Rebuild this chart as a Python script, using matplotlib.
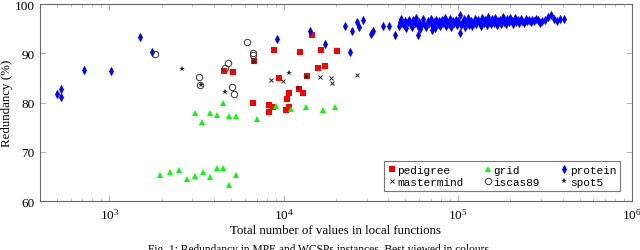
import numpy as np
import matplotlib
matplotlib.use("Agg")
import matplotlib.pyplot as plt
from matplotlib.ticker import LogLocator, NullFormatter, FixedLocator

# ---------------------------
# data
# ---------------------------
pedigree_x = [4530, 5100, 6790, 6670, 8770, 8280, 8280, 8650, 9440, 10300, 10450,
              10770, 10770, 12360, 12300, 12970, 13600, 14650, 15730, 16340, 17300, 20180]
pedigree_y = [86.5, 86.3, 88.4, 79.9, 90.7, 79.6, 78.1, 79.0, 84.9, 78.5, 80.7,
              82.0, 79.0, 90.3, 82.7, 82.0, 85.4, 93.7, 87.1, 90.6, 87.4, 90.4]

grid_x = [1966, 2223, 2505, 2785, 3097, 3440, 3770, 4137, 4510, 4880, 5310,
          4490, 3097, 3420, 3770, 4140, 4880, 5310, 7070, 9080, 11000, 13500, 16800, 19700]
grid_y = [65.3, 65.8, 66.3, 64.5, 65.1, 65.8, 64.8, 66.7, 66.8, 63.3, 65.3,
          79.9, 77.8, 76.1, 77.8, 77.5, 77.3, 77.2, 76.7, 79.2, 78.7, 79.1, 78.5, 79.1]

mastermind_x = [8450, 9950, 16190, 18630, 18880, 26490]
mastermind_y = [84.6, 84.4, 85.1, 85.0, 83.9, 85.5]

iscas_x = [1832, 6150, 6700, 6700, 4800, 4610, 3290, 3300, 5040, 5200]
iscas_y = [89.8, 92.3, 90.0, 89.6, 88.0, 87.0, 85.1, 83.6, 83.2, 81.7]

spot5_x = [2618, 3365, 4610, 6730, 10770, 13450, 12160]
spot5_y = [86.9, 83.6, 82.2, 88.3, 86.0, 85.2, 82.9]

protein_x = [498, 525, 525, 716, 1018, 1490, 1746, 9160, 14190, 17180, 24050,
             22440, 24790, 26360, 27200, 28700, 31600, 32400, 37300, 40200, 43500,
             46200, 46800, 47000, 48100, 49000, 49800,
             50500, 51500, 52300, 53800, 54500, 55600, 56800, 57500, 58800, 58900, 60200, 61000, 62300,
             63500, 64600, 66000, 67200, 68400, 69900, 71000, 71300, 72600, 73800, 75200, 76500, 78000,
             79500, 81000, 82600, 84000, 85700, 87200, 88800, 90500, 92000, 93800, 95600, 97300, 99000,
             100800, 102500, 103500, 104000, 106000, 108000, 110000, 112000, 114000, 116500, 118500,
             121000, 123000, 125500,
             128000, 130500, 133000, 135500, 138000, 141000, 143500, 146500, 149000, 152000, 155000, 157500,
             161000, 164000, 167000, 170500, 174000, 177500, 181000, 184500, 188000, 192000, 196000, 199500,
             204000, 208000, 212000, 216500, 221000, 225500, 230000, 235000, 240000, 245000, 250000,
             256000, 262000, 268000, 275000, 283000, 290000, 298000, 306000,
             318000, 330000, 342000, 355000, 370000, 385000, 405000]
protein_y = [81.7, 82.8, 81.05, 86.6, 86.5, 93.4, 90.3, 92.9, 94.5, 91.9, 90.2,
             95.5, 94.6, 96.3, 95.3, 96.7, 94.0, 94.5, 95.5, 95.6, 93.8,
             95.5, 96.3, 97.0, 96.2, 95.7, 96.6,
             95.2, 96.3, 96.8, 95.8, 95.4, 96.7, 96.1, 97.1, 93.8, 95.6, 96.4, 95.0, 96.0,
             96.9, 95.8, 95.4, 96.6, 96.1, 97.0, 95.7, 94.7, 96.3, 95.2, 96.8, 96.0, 96.5,
             95.5, 96.7, 96.1, 97.2, 95.6, 96.4, 95.9, 97.0, 95.3, 96.6, 96.2, 96.8, 95.7,
             96.5, 97.8, 94.2, 95.7, 96.1, 96.9, 95.4, 96.4, 97.1, 95.8, 96.6,
             95.5, 96.2, 97.0,
             95.9, 96.8, 96.3, 95.6, 97.2, 96.1, 96.7, 95.7, 97.4, 96.4, 96.0, 96.9,
             96.2, 97.1, 95.8, 96.6, 96.8, 96.0, 97.3, 96.4, 95.9, 96.9, 96.3, 97.1,
             96.6, 96.0, 97.2, 96.4, 96.8, 96.1, 97.0, 96.5, 96.2, 96.9, 96.6,
             96.8, 96.3, 96.7, 96.5, 97.0, 96.7, 96.2, 96.6,
             96.8, 97.3, 97.8, 97.0, 96.6, 96.9, 96.9]

caption = "Fig. 1: Redundancy in MPE and WCSPs instances. Best viewed in colours."

# ---------------------------
# plot
# ---------------------------
plt.rcParams['font.family'] = ['Liberation Serif', 'DejaVu Serif']
plt.rcParams['mathtext.fontset'] = 'stix'

fig = plt.figure(figsize=(6.4, 2.51), dpi=100)
ax = fig.add_axes([0.0625, 0.195, 0.925, 0.785])

ax.plot(pedigree_x, pedigree_y, 's', color='#ff0000', ms=4.2, mew=0, label='pedigree', zorder=3)
ax.plot(mastermind_x, mastermind_y, 'x', color='#222222', ms=3.2, mew=0.7, label='mastermind', zorder=4)
ax.plot(grid_x, grid_y, '^', color='#00ff00', ms=4.2, mew=0, label='grid', zorder=3)
ax.plot(iscas_x, iscas_y, 'o', mfc='none', mec='#333333', ms=4.6, mew=0.7, label='iscas89', zorder=4)
ax.plot(protein_x, protein_y, 'd', color='#0000ff', ms=4, mew=0.6, label='protein', zorder=3)
ax.plot(spot5_x, spot5_y, '*', color='#222222', ms=4, mew=0, label='spot5', zorder=5)

ax.set_xscale('log')
ax.set_xlim(400, 1e6)
ax.set_ylim(60, 100)
ax.yaxis.set_major_locator(FixedLocator([60, 70, 80, 90, 100]))
ax.xaxis.set_major_locator(LogLocator(base=10, numticks=10))
ax.xaxis.set_minor_locator(LogLocator(base=10, subs=np.arange(2, 10), numticks=10))
ax.xaxis.set_minor_formatter(NullFormatter())

for s in ax.spines.values():
    s.set_color('#666666')
    s.set_linewidth(0.8)
ax.tick_params(which='both', direction='in', top=True, right=True, color='#aaaaaa', labelsize=9.5, pad=4)
ax.tick_params(which='major', length=4, width=0.6)
ax.tick_params(which='minor', length=2.5, width=0.5)

ax.set_xlabel('Total number of values in local functions', fontsize=9.3, labelpad=2)
ax.set_ylabel('Redundancy (%)', fontsize=9.3)
ax.yaxis.set_label_coords(-0.045, 0.5)

leg = ax.legend(ncol=3, loc='lower right', bbox_to_anchor=(0.98, 0.05),
                prop={'family': 'Liberation Mono', 'size': 8},
                frameon=True, fancybox=False, edgecolor='#555555',
                handlelength=0.6, handletextpad=0.2, columnspacing=1.9,
                borderpad=0.35, labelspacing=0.25, borderaxespad=0)
leg.get_frame().set_linewidth(0.8)

fig.text(0.5, 0.026, caption, ha='center', va='top', fontsize=8.3)

fig.savefig('out.png', dpi=100)
